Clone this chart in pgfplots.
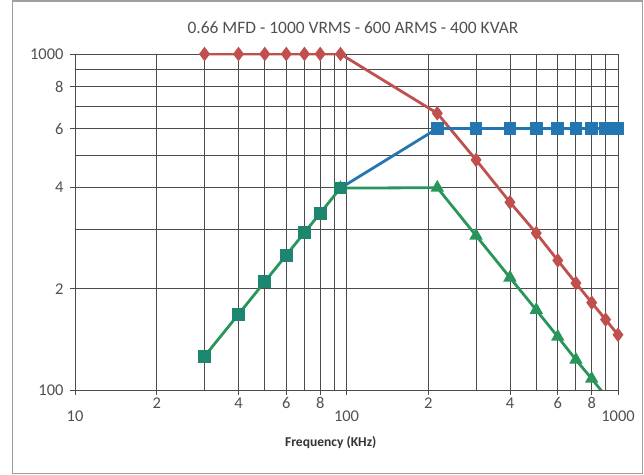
\documentclass[border=0pt]{standalone}
\usepackage{pgfplots}
\pgfplotsset{compat=1.18}
\usepackage{fontspec}
\setmainfont{Carlito}

\definecolor{cred}{RGB}{192,80,77}
\definecolor{cblue}{RGB}{36,118,178}
\definecolor{cgreen}{RGB}{40,150,90}
\definecolor{cteal}{RGB}{28,135,110}
\definecolor{cgrid}{RGB}{75,75,75}
\definecolor{ctext}{RGB}{80,80,80}

\begin{document}
\begin{tikzpicture}
\useasboundingbox (0,0) rectangle (644bp,475bp);
\draw[gray!75, line width=1.2bp] (12.5bp,1.5bp) rectangle (642.5bp,474bp);
\begin{axis}[
    at={(75bp,85bp)}, anchor=south west,
    scale only axis, width=543bp, height=336bp,
    xmode=log, ymode=log,
    xmin=10, xmax=1000, ymin=100, ymax=1000,
    xtick={20,40,60,80,200,400,600,800},
    xticklabels={2,4,6,8,2,4,6,8},
    extra x ticks={10,100,1000},
    extra x tick labels={10,100,1000},
    extra x tick style={xticklabel style={yshift=-13bp}},
    ytick={100,200,400,600,800,1000},
    yticklabels={100,2,4,6,8,1000},
    minor xtick={30,50,70,90,300,500,700,900},
    minor ytick={300,500,700,900},
    grid=both,
    major grid style={cgrid, line width=0.9bp},
    minor grid style={cgrid, line width=0.9bp},
    axis line style={cgrid, line width=0.9bp},
    tick style={cgrid, line width=0.9bp},
    major tick length=5bp, minor tick length=0pt,
    tick align=outside,
    xtick pos=bottom, ytick pos=left,
    tick label style={font=\fontsize{16.5}{16.5}\selectfont, text=ctext},
    xticklabel style={yshift=1bp},
    yticklabel style={xshift=-3bp},
    every axis title shift=0pt,
    title={0.66 MFD - 1000 VRMS - 600 ARMS - 400 KVAR},
    title style={at={(0.512,1)}, anchor=center, yshift=26bp,
        font=\fontsize{17.5}{17.5}\selectfont, text=ctext},
    xlabel={Frequency (KHz)},
    xlabel style={at={(0.471,0)}, anchor=center, yshift=-53bp,
        font=\fontsize{13.6}{14}\bfseries, text=black!80},
]
% red: voltage limit
\addplot[cred, line width=2.8bp, mark=diamond*, mark size=5bp,
    mark options={fill=cred, draw=cred}] coordinates {
    (30,1000) (40,1000) (50,1000) (60,1000) (70,1000) (80,1000) (95,1000)
    (216,666) (300,484) (400,362) (500,293) (600,243) (700,208)
    (800,182) (900,162) (1000,146)
};
% blue: current limit
\addplot[cblue, line width=2.8bp, mark=square*, mark size=5bp,
    mark options={fill=cblue, draw=cblue}] coordinates {
    (95,399) (216,600) (300,600) (400,600) (500,600) (600,600)
    (700,600) (800,600) (900,600) (1000,600)
};
% green: kvar limit
\addplot[cgreen, line width=2.8bp, mark=triangle*, mark size=5bp,
    mark options={fill=cgreen, draw=cgreen}] coordinates {
    (95,399) (216,400) (300,288) (400,216) (500,173) (600,144)
    (700,123) (800,108) (900,96)
};
% shared low-frequency part
\addplot[cgreen, line width=2.8bp, mark=square*, mark size=5bp,
    mark options={fill=cteal, draw=cteal}] coordinates {
    (30,126) (40,168) (50,210) (60,252) (70,294) (80,336) (95,399)
};
\end{axis}
\end{tikzpicture}
\end{document}
